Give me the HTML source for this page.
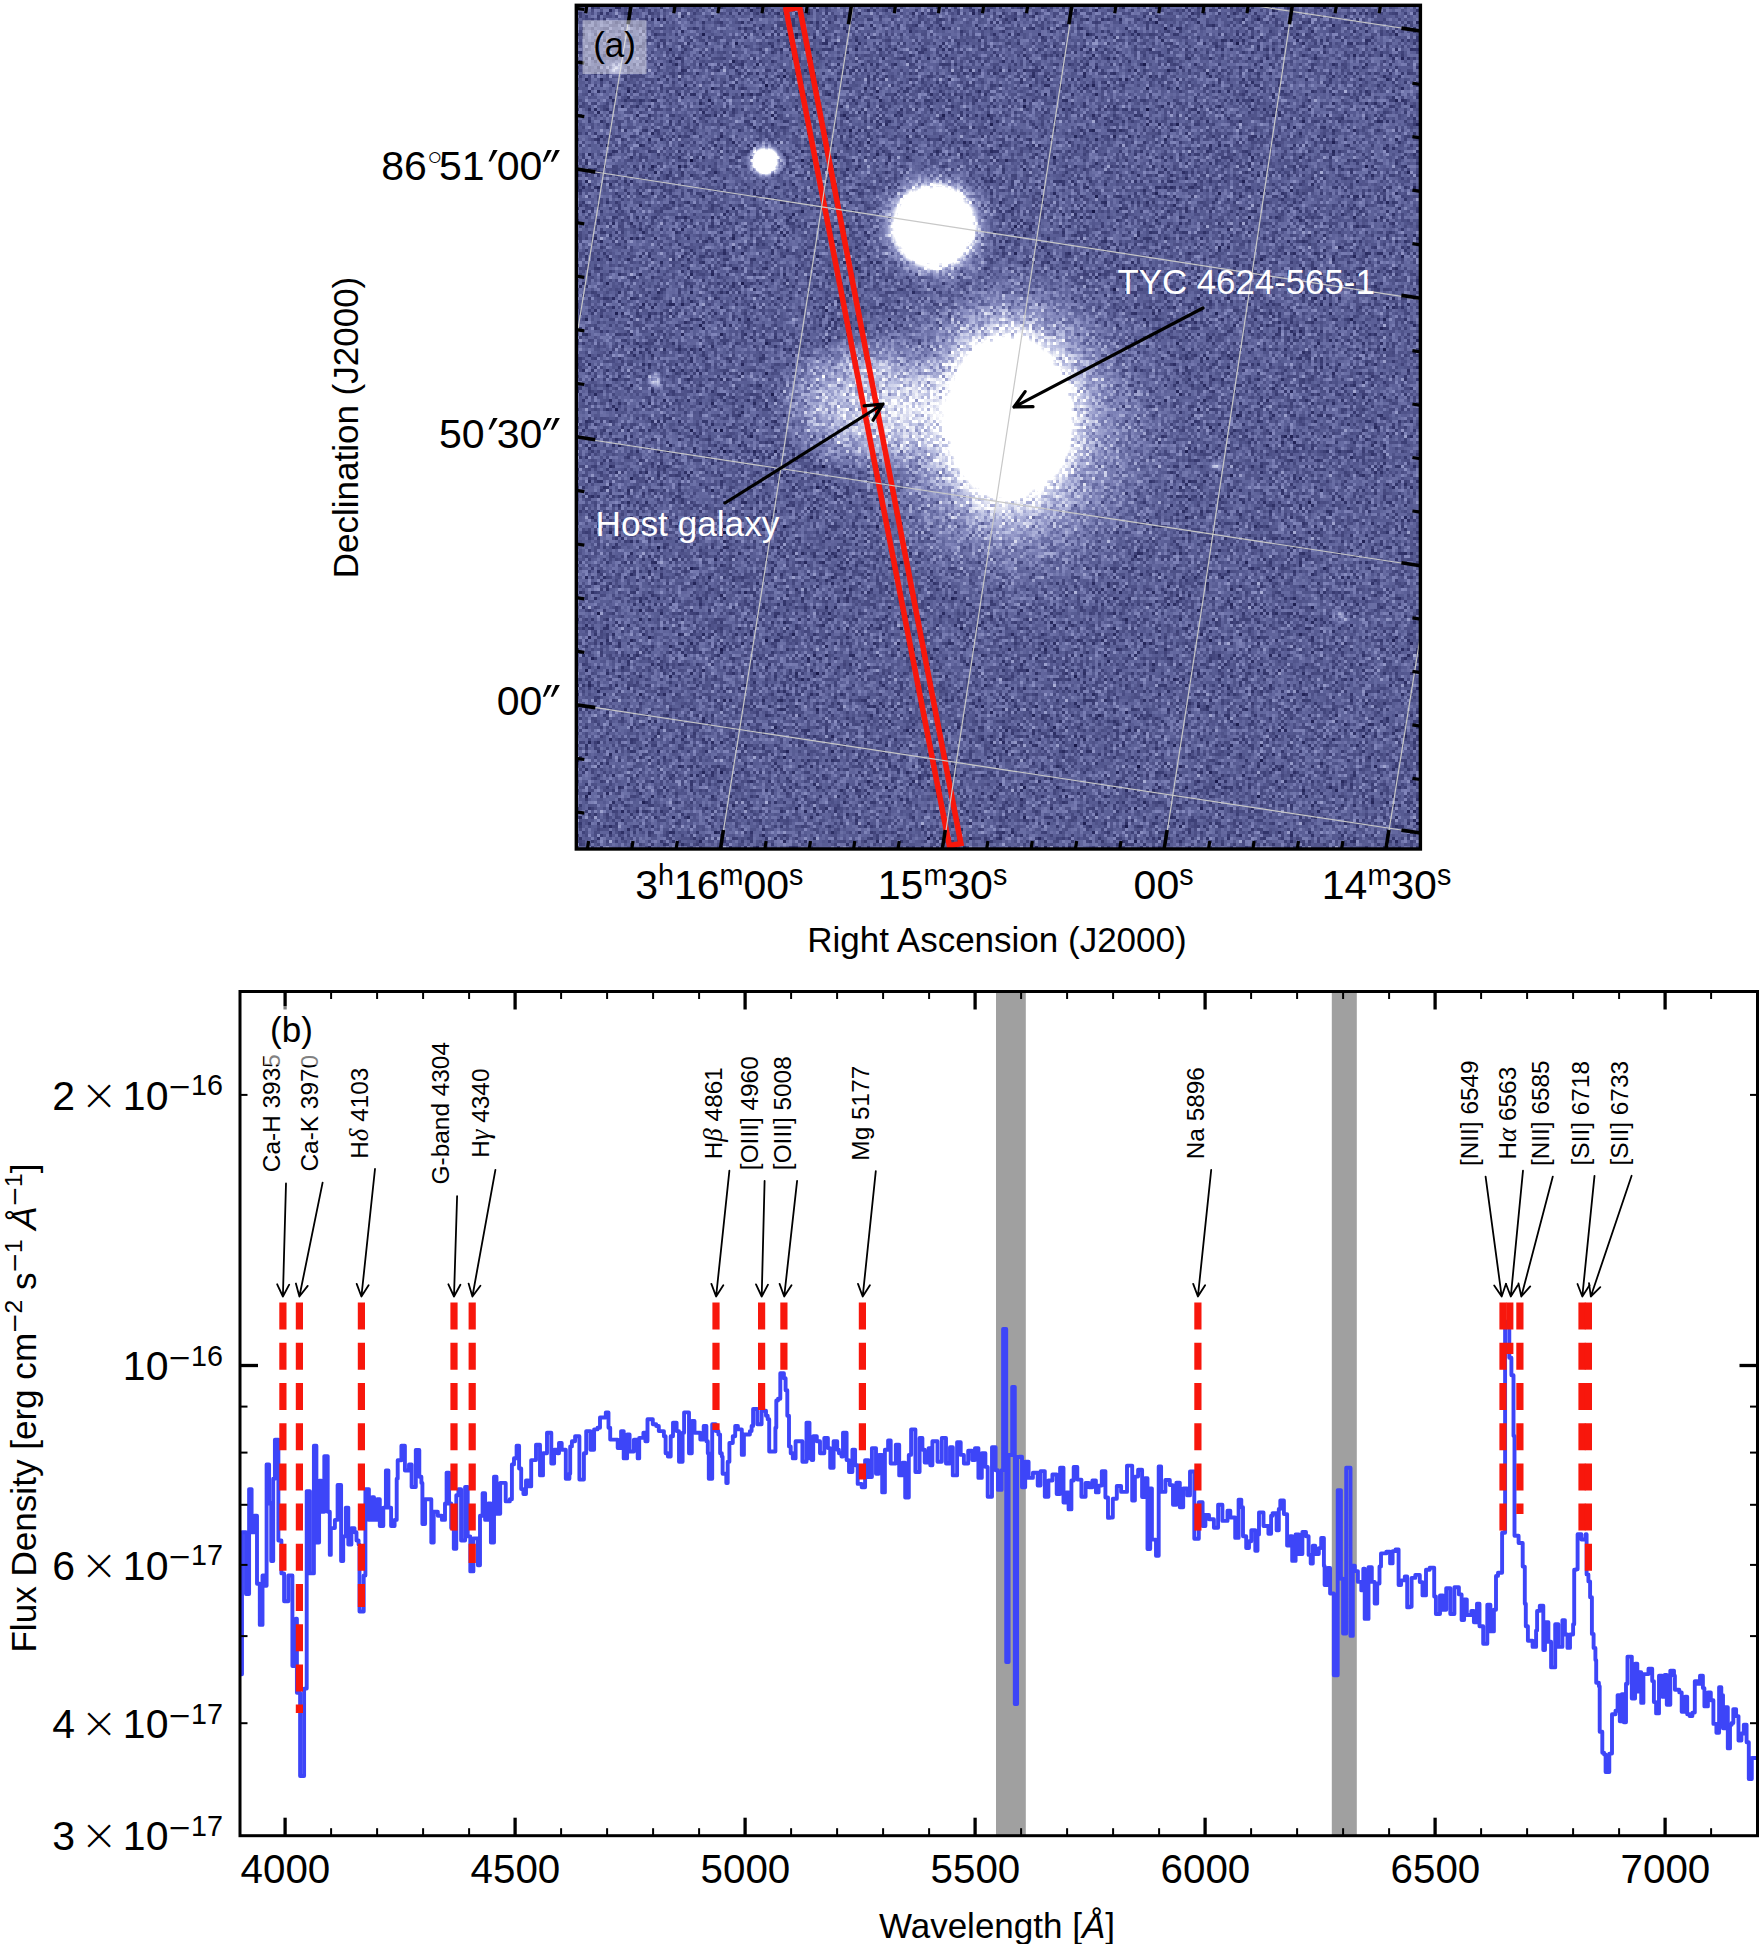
<!DOCTYPE html>
<html><head><meta charset="utf-8"><title>Figure</title>
<style>
html,body{margin:0;padding:0;background:#fff;}
svg{display:block;}
text{font-family:"Liberation Sans", sans-serif;}
</style></head><body>
<svg width="1762" height="1944" viewBox="0 0 1762 1944">
<rect width="1762" height="1944" fill="#fff"/>

<defs>
<clipPath id="clipA"><rect x="576.3" y="5.3" width="844.1000000000001" height="843.7"/></clipPath>
<filter id="sky" x="0" y="0" width="860" height="860" filterUnits="userSpaceOnUse" color-interpolation-filters="sRGB">
  <feTurbulence type="fractalNoise" baseFrequency="0.43 0.47" numOctaves="2" seed="7" result="t"/>
  <feColorMatrix in="t" type="matrix" values="1 0 0 0 0  1 0 0 0 0  1 0 0 0 0  0 0 0 0 1" result="n0"/>
  <feFlood x="1" y="1" width="1" height="1" flood-color="#000" result="f"/>
  <feComposite in="f" in2="f" operator="over" x="0" y="0" width="3" height="3" result="f2"/>
  <feTile in="f2" result="tile"/>
  <feComposite in="n0" in2="tile" operator="in" result="samp"/>
  <feMorphology in="samp" operator="dilate" radius="1" result="pix"/>
  <feColorMatrix in="pix" type="matrix" values="1 0 0 0 0  1 0 0 0 0  1 0 0 0 0  0 0 0 0 1" result="n"/>
  <feComposite in="SourceGraphic" in2="n" operator="arithmetic" k1="0" k2="2" k3="0.92" k4="-0.46" result="sum"/>
  <feComponentTransfer in="sum">
    <feFuncR type="table" tableValues="0.055 0.090 0.125 0.161 0.196 0.234 0.273 0.311 0.349 0.389 0.429 0.470 0.510 0.565 0.620 0.675 0.729 0.797 0.865 0.932 1.000"/>
    <feFuncG type="table" tableValues="0.055 0.092 0.129 0.167 0.204 0.244 0.284 0.325 0.365 0.406 0.447 0.488 0.529 0.584 0.639 0.694 0.749 0.812 0.875 0.937 1.000"/>
    <feFuncB type="table" tableValues="0.243 0.286 0.329 0.373 0.416 0.458 0.500 0.542 0.584 0.623 0.661 0.699 0.737 0.775 0.812 0.849 0.886 0.915 0.943 0.972 1.000"/>
    <feFuncA type="linear" slope="0" intercept="1"/>
  </feComponentTransfer>
</filter>

<radialGradient id="gS"><stop offset="0" stop-color="rgb(255,255,255)" stop-opacity="1"/><stop offset="0.45" stop-color="rgb(255,255,255)" stop-opacity="1"/><stop offset="0.55" stop-color="rgb(255,255,255)" stop-opacity="0.5"/><stop offset="0.75" stop-color="rgb(255,255,255)" stop-opacity="0.15"/><stop offset="1" stop-color="rgb(255,255,255)" stop-opacity="0"/></radialGradient>
<radialGradient id="gM"><stop offset="0" stop-color="rgb(255,255,255)" stop-opacity="1"/><stop offset="0.5" stop-color="rgb(255,255,255)" stop-opacity="1"/><stop offset="0.57" stop-color="rgb(255,255,255)" stop-opacity="0.5"/><stop offset="0.68" stop-color="rgb(255,255,255)" stop-opacity="0.2"/><stop offset="0.8" stop-color="rgb(255,255,255)" stop-opacity="0.07"/><stop offset="1" stop-color="rgb(255,255,255)" stop-opacity="0"/></radialGradient>
<radialGradient id="gB"><stop offset="0" stop-color="rgb(255,255,255)" stop-opacity="1"/><stop offset="0.47" stop-color="rgb(255,255,255)" stop-opacity="1"/><stop offset="0.5" stop-color="rgb(255,255,255)" stop-opacity="0.5"/><stop offset="0.56" stop-color="rgb(255,255,255)" stop-opacity="0.25"/><stop offset="0.68" stop-color="rgb(255,255,255)" stop-opacity="0.1"/><stop offset="0.85" stop-color="rgb(255,255,255)" stop-opacity="0.02"/><stop offset="1" stop-color="rgb(255,255,255)" stop-opacity="0"/></radialGradient>
<radialGradient id="gG"><stop offset="0" stop-color="rgb(255,255,255)" stop-opacity="0.27"/><stop offset="0.5" stop-color="rgb(255,255,255)" stop-opacity="0.21"/><stop offset="0.8" stop-color="rgb(255,255,255)" stop-opacity="0.09"/><stop offset="1" stop-color="rgb(255,255,255)" stop-opacity="0"/></radialGradient>
<radialGradient id="gG2"><stop offset="0" stop-color="rgb(255,255,255)" stop-opacity="0.06"/><stop offset="0.5" stop-color="rgb(255,255,255)" stop-opacity="0.04"/><stop offset="1" stop-color="rgb(255,255,255)" stop-opacity="0"/></radialGradient>
<radialGradient id="gH"><stop offset="0" stop-color="rgb(255,255,255)" stop-opacity="0.13"/><stop offset="0.5" stop-color="rgb(255,255,255)" stop-opacity="0.13"/><stop offset="0.62" stop-color="rgb(255,255,255)" stop-opacity="0.1"/><stop offset="0.8" stop-color="rgb(255,255,255)" stop-opacity="0.04"/><stop offset="1" stop-color="rgb(255,255,255)" stop-opacity="0"/></radialGradient>
<radialGradient id="gF"><stop offset="0" stop-color="rgb(255,255,255)" stop-opacity="0.2"/><stop offset="0.5" stop-color="rgb(255,255,255)" stop-opacity="0.1"/><stop offset="1" stop-color="rgb(255,255,255)" stop-opacity="0"/></radialGradient>
<radialGradient id="gF2"><stop offset="0" stop-color="rgb(255,255,255)" stop-opacity="0.3"/><stop offset="0.5" stop-color="rgb(255,255,255)" stop-opacity="0.15"/><stop offset="1" stop-color="rgb(255,255,255)" stop-opacity="0"/></radialGradient>
</defs>
<g clip-path="url(#clipA)">
<g filter="url(#sky)" transform="translate(570,0)"><g transform="translate(-570,0)">
<rect x="570.3" y="-0.7000000000000002" width="856.1000000000001" height="855.7" fill="rgb(51,51,51)"/>
<ellipse cx="1012" cy="432" rx="175" ry="185" fill="url(#gH)"/>
<ellipse cx="864" cy="403" rx="90" ry="72" fill="url(#gG)"/>
<ellipse cx="922" cy="428" rx="55" ry="50" fill="url(#gG2)"/>
<ellipse cx="1009" cy="418" rx="117" ry="152" fill="url(#gB)"/>
<circle cx="934.2" cy="226.3" r="66" fill="url(#gM)"/>
<circle cx="765.4" cy="161" r="20" fill="url(#gS)"/>
<circle cx="655.4" cy="380.7" r="10" fill="url(#gF2)"/>
<circle cx="1217" cy="465" r="8" fill="url(#gF)"/>
<circle cx="1341" cy="617" r="9" fill="url(#gF)"/>
<circle cx="616" cy="69" r="9" fill="url(#gF2)"/>
</g></g>
<path d="M786.1,9.7 L949.4,845.8 L960.9,843.5 L799.6,7.2 Z" fill="none" stroke="#f8170c" stroke-width="5.6" stroke-linejoin="miter"/>
<polyline points="631,5 577,335" fill="none" stroke="#c8c8c8" stroke-width="1.2"/>
<polyline points="853,5.3 760.3,600 720.5,849" fill="none" stroke="#c8c8c8" stroke-width="1.2"/>
<polyline points="1072.7,5.3 981,600 943.2,849" fill="none" stroke="#c8c8c8" stroke-width="1.2"/>
<polyline points="1292.3,5.3 1203,600 1164.5,849" fill="none" stroke="#c8c8c8" stroke-width="1.2"/>
<polyline points="1421,632 1386,849" fill="none" stroke="#c8c8c8" stroke-width="1.2"/>
<polyline points="576,169 1000,234.4 1421,299.3" fill="none" stroke="#c8c8c8" stroke-width="1.2"/>
<polyline points="576,437.5 1150,524.7 1421,566" fill="none" stroke="#c8c8c8" stroke-width="1.2"/>
<polyline points="576,704.7 1421,833" fill="none" stroke="#c8c8c8" stroke-width="1.2"/>
<polyline points="1250,5 1421,31" fill="none" stroke="#c8c8c8" stroke-width="1.2"/>
</g>
<line x1="587.4" y1="849.0" x2="588.6" y2="841.0" stroke="#000" stroke-width="3.2"/>
<line x1="631.8" y1="849.0" x2="633.0" y2="841.0" stroke="#000" stroke-width="3.2"/>
<line x1="676.1" y1="849.0" x2="677.4" y2="841.0" stroke="#000" stroke-width="3.2"/>
<line x1="720.5" y1="849.0" x2="723.4" y2="830.0" stroke="#000" stroke-width="3.6"/>
<line x1="764.9" y1="849.0" x2="766.1" y2="841.0" stroke="#000" stroke-width="3.2"/>
<line x1="809.2" y1="849.0" x2="810.5" y2="841.0" stroke="#000" stroke-width="3.2"/>
<line x1="853.6" y1="849.0" x2="854.8" y2="841.0" stroke="#000" stroke-width="3.2"/>
<line x1="898.0" y1="849.0" x2="899.2" y2="841.0" stroke="#000" stroke-width="3.2"/>
<line x1="942.3" y1="849.0" x2="945.3" y2="830.0" stroke="#000" stroke-width="3.6"/>
<line x1="986.7" y1="849.0" x2="987.9" y2="841.0" stroke="#000" stroke-width="3.2"/>
<line x1="1031.1" y1="849.0" x2="1032.3" y2="841.0" stroke="#000" stroke-width="3.2"/>
<line x1="1075.4" y1="849.0" x2="1076.7" y2="841.0" stroke="#000" stroke-width="3.2"/>
<line x1="1119.8" y1="849.0" x2="1121.0" y2="841.0" stroke="#000" stroke-width="3.2"/>
<line x1="1164.2" y1="849.0" x2="1167.1" y2="830.0" stroke="#000" stroke-width="3.6"/>
<line x1="1208.5" y1="849.0" x2="1209.8" y2="841.0" stroke="#000" stroke-width="3.2"/>
<line x1="1252.9" y1="849.0" x2="1254.1" y2="841.0" stroke="#000" stroke-width="3.2"/>
<line x1="1297.3" y1="849.0" x2="1298.5" y2="841.0" stroke="#000" stroke-width="3.2"/>
<line x1="1341.6" y1="849.0" x2="1342.9" y2="841.0" stroke="#000" stroke-width="3.2"/>
<line x1="1386.0" y1="849.0" x2="1388.9" y2="830.0" stroke="#000" stroke-width="3.6"/>
<line x1="586.9" y1="5.3" x2="585.7" y2="13.3" stroke="#000" stroke-width="3.2"/>
<line x1="631.0" y1="5.3" x2="628.1" y2="24.3" stroke="#000" stroke-width="3.6"/>
<line x1="675.1" y1="5.3" x2="673.8" y2="13.3" stroke="#000" stroke-width="3.2"/>
<line x1="719.2" y1="5.3" x2="717.9" y2="13.3" stroke="#000" stroke-width="3.2"/>
<line x1="763.3" y1="5.3" x2="762.0" y2="13.3" stroke="#000" stroke-width="3.2"/>
<line x1="807.3" y1="5.3" x2="806.1" y2="13.3" stroke="#000" stroke-width="3.2"/>
<line x1="851.4" y1="5.3" x2="848.5" y2="24.3" stroke="#000" stroke-width="3.6"/>
<line x1="895.5" y1="5.3" x2="894.3" y2="13.3" stroke="#000" stroke-width="3.2"/>
<line x1="939.6" y1="5.3" x2="938.4" y2="13.3" stroke="#000" stroke-width="3.2"/>
<line x1="983.7" y1="5.3" x2="982.5" y2="13.3" stroke="#000" stroke-width="3.2"/>
<line x1="1027.8" y1="5.3" x2="1026.5" y2="13.3" stroke="#000" stroke-width="3.2"/>
<line x1="1071.9" y1="5.3" x2="1068.9" y2="24.3" stroke="#000" stroke-width="3.6"/>
<line x1="1116.0" y1="5.3" x2="1114.7" y2="13.3" stroke="#000" stroke-width="3.2"/>
<line x1="1160.0" y1="5.3" x2="1158.8" y2="13.3" stroke="#000" stroke-width="3.2"/>
<line x1="1204.1" y1="5.3" x2="1202.9" y2="13.3" stroke="#000" stroke-width="3.2"/>
<line x1="1248.2" y1="5.3" x2="1247.0" y2="13.3" stroke="#000" stroke-width="3.2"/>
<line x1="1292.3" y1="5.3" x2="1289.4" y2="24.3" stroke="#000" stroke-width="3.6"/>
<line x1="1336.4" y1="5.3" x2="1335.1" y2="13.3" stroke="#000" stroke-width="3.2"/>
<line x1="1380.5" y1="5.3" x2="1379.2" y2="13.3" stroke="#000" stroke-width="3.2"/>
<line x1="576.3" y1="8.3" x2="584.3" y2="9.5" stroke="#000" stroke-width="3.2"/>
<line x1="576.3" y1="61.9" x2="584.3" y2="63.1" stroke="#000" stroke-width="3.2"/>
<line x1="576.3" y1="115.4" x2="584.3" y2="116.7" stroke="#000" stroke-width="3.2"/>
<line x1="576.3" y1="169.0" x2="595.3" y2="171.9" stroke="#000" stroke-width="3.6"/>
<line x1="576.3" y1="222.6" x2="584.3" y2="223.8" stroke="#000" stroke-width="3.2"/>
<line x1="576.3" y1="276.1" x2="584.3" y2="277.4" stroke="#000" stroke-width="3.2"/>
<line x1="576.3" y1="329.7" x2="584.3" y2="330.9" stroke="#000" stroke-width="3.2"/>
<line x1="576.3" y1="383.3" x2="584.3" y2="384.5" stroke="#000" stroke-width="3.2"/>
<line x1="576.3" y1="436.8" x2="595.3" y2="439.8" stroke="#000" stroke-width="3.6"/>
<line x1="576.3" y1="490.4" x2="584.3" y2="491.6" stroke="#000" stroke-width="3.2"/>
<line x1="576.3" y1="544.0" x2="584.3" y2="545.2" stroke="#000" stroke-width="3.2"/>
<line x1="576.3" y1="597.6" x2="584.3" y2="598.8" stroke="#000" stroke-width="3.2"/>
<line x1="576.3" y1="651.1" x2="584.3" y2="652.4" stroke="#000" stroke-width="3.2"/>
<line x1="576.3" y1="704.7" x2="595.3" y2="707.6" stroke="#000" stroke-width="3.6"/>
<line x1="576.3" y1="758.3" x2="584.3" y2="759.5" stroke="#000" stroke-width="3.2"/>
<line x1="576.3" y1="811.8" x2="584.3" y2="813.1" stroke="#000" stroke-width="3.2"/>
<line x1="1420.4" y1="31.0" x2="1401.4" y2="28.1" stroke="#000" stroke-width="3.6"/>
<line x1="1420.4" y1="84.5" x2="1412.4" y2="83.2" stroke="#000" stroke-width="3.2"/>
<line x1="1420.4" y1="137.9" x2="1412.4" y2="136.7" stroke="#000" stroke-width="3.2"/>
<line x1="1420.4" y1="191.4" x2="1412.4" y2="190.2" stroke="#000" stroke-width="3.2"/>
<line x1="1420.4" y1="244.9" x2="1412.4" y2="243.6" stroke="#000" stroke-width="3.2"/>
<line x1="1420.4" y1="298.3" x2="1401.4" y2="295.4" stroke="#000" stroke-width="3.6"/>
<line x1="1420.4" y1="351.8" x2="1412.4" y2="350.6" stroke="#000" stroke-width="3.2"/>
<line x1="1420.4" y1="405.3" x2="1412.4" y2="404.0" stroke="#000" stroke-width="3.2"/>
<line x1="1420.4" y1="458.7" x2="1412.4" y2="457.5" stroke="#000" stroke-width="3.2"/>
<line x1="1420.4" y1="512.2" x2="1412.4" y2="511.0" stroke="#000" stroke-width="3.2"/>
<line x1="1420.4" y1="565.7" x2="1401.4" y2="562.8" stroke="#000" stroke-width="3.6"/>
<line x1="1420.4" y1="619.1" x2="1412.4" y2="617.9" stroke="#000" stroke-width="3.2"/>
<line x1="1420.4" y1="672.6" x2="1412.4" y2="671.4" stroke="#000" stroke-width="3.2"/>
<line x1="1420.4" y1="726.1" x2="1412.4" y2="724.8" stroke="#000" stroke-width="3.2"/>
<line x1="1420.4" y1="779.5" x2="1412.4" y2="778.3" stroke="#000" stroke-width="3.2"/>
<line x1="1420.4" y1="833.0" x2="1401.4" y2="830.1" stroke="#000" stroke-width="3.6"/>
<rect x="576.3" y="5.3" width="844.1000000000001" height="843.7" fill="none" stroke="#000" stroke-width="3.4"/>
<rect x="582.6" y="20.2" width="63.9" height="53.8" fill="#fff" fill-opacity="0.42"/>
<path d="M1203.0,308.0 L1014.0,407.0 M1025.1,391.6 L1014.0,407.0 L1033.0,406.6" fill="none" stroke="#000" stroke-width="3.2" stroke-linecap="round" stroke-linejoin="round"/>
<path d="M725.0,503.0 L883.0,404.0 M873.1,420.2 L883.0,404.0 L864.1,405.8" fill="none" stroke="#000" stroke-width="3.2" stroke-linecap="round" stroke-linejoin="round"/>
<text x="614.6" y="57" font-size="35" text-anchor="middle">(a)</text>
<text x="1117.5" y="294.3" font-size="34.8" fill="#fff">TYC 4624-565-1</text>
<text x="595.5" y="536.3" font-size="35.2" fill="#fff">Host galaxy</text>
<text x="563" y="179.6" font-size="41" text-anchor="end">86<tspan font-size="25" dy="-14.5" dx="0.5">○</tspan><tspan dy="14.5" dx="-3.5">51</tspan><tspan font-family="DejaVu Math TeX Gyre, DejaVu Sans, sans-serif" font-size="50" dy="8" dx="1">′</tspan><tspan dy="-8" dx="-4">00</tspan><tspan font-family="DejaVu Math TeX Gyre, DejaVu Sans, sans-serif" font-size="50" dy="8" dx="-2.5">″</tspan></text>
<text x="563" y="447.5" font-size="41" text-anchor="end">50<tspan font-family="DejaVu Math TeX Gyre, DejaVu Sans, sans-serif" font-size="50" dy="8" dx="1">′</tspan><tspan dy="-8" dx="-4">30</tspan><tspan font-family="DejaVu Math TeX Gyre, DejaVu Sans, sans-serif" font-size="50" dy="8" dx="-2.5">″</tspan></text>
<text x="563" y="715" font-size="41" text-anchor="end">00<tspan font-family="DejaVu Math TeX Gyre, DejaVu Sans, sans-serif" font-size="50" dy="8" dx="-2.5">″</tspan></text>
<text x="719.3" y="899.4" font-size="41" text-anchor="middle">3<tspan font-size="28.7" dy="-14.8">h</tspan><tspan dy="14.8">16</tspan><tspan font-size="28.7" dy="-14.8">m</tspan><tspan dy="14.8">00</tspan><tspan font-size="28.7" dy="-14.8">s</tspan></text>
<text x="942.5" y="899.4" font-size="41" text-anchor="middle">15<tspan font-size="28.7" dy="-14.8">m</tspan><tspan dy="14.8">30</tspan><tspan font-size="28.7" dy="-14.8">s</tspan></text>
<text x="1163.6" y="899.4" font-size="41" text-anchor="middle">00<tspan font-size="28.7" dy="-14.8">s</tspan></text>
<text x="1386.5" y="899.4" font-size="41" text-anchor="middle">14<tspan font-size="28.7" dy="-14.8">m</tspan><tspan dy="14.8">30</tspan><tspan font-size="28.7" dy="-14.8">s</tspan></text>
<text x="997" y="951.5" font-size="35" text-anchor="middle">Right Ascension (J2000)</text>
<text transform="translate(358,427.5) rotate(-90)" font-size="35" text-anchor="middle">Declination (J2000)</text>
<clipPath id="clipB"><rect x="240.0" y="991.5" width="1517.5" height="844.2"/></clipPath>
<g clip-path="url(#clipB)">
<rect x="996" y="991.5" width="29.8" height="844.2" fill="#a0a0a0"/>
<rect x="1331.8" y="991.5" width="25" height="844.2" fill="#a0a0a0"/>
<path d="M240.3,1674.2H242.0V1532.3H243.8H246.0V1594.0H246.9H249.1V1489.1H250.0H251.6V1532.3H254.3V1515.8H256.1H257.0V1583.7H258.8H259.8V1624.9H262.5V1575.5H263.4H265.0V1585.8H266.6V1464.4H267.5H269.1V1503.5H271.2V1561.1H273.2V1478.8H274.9V1439.7H276.7H278.4V1540.5H280.4H281.4V1573.4H284.1V1601.2H285.9H288.3V1575.5H290.0H292.4V1666.0H294.8H295.8V1618.7H296.9V1692.8H299.5H300.1V1776.1H301.0H304.1V1688.6H306.7V1491.1H307.6H309.9V1573.4H311.7H313.9V1445.8H314.8H316.4V1542.6H319.1V1480.8H320.0H321.6V1511.7H324.3V1456.1H326.1H327.7V1511.7H329.8V1554.9H330.8V1528.1H332.9H334.9V1519.9H337.6V1484.9H338.5H341.1V1561.1H343.2V1536.4H345.8V1507.6H346.7H348.3V1544.6H351.4V1528.1H354.5V1532.3H356.5V1540.5H358.6V1544.6H359.5V1611.5H361.0H363.7V1575.5H365.4V1489.1H366.3H368.9V1519.9H372.0V1497.3H374.0V1519.9H377.1V1499.3H379.8V1526.1H381.6H383.3V1507.6H385.9V1470.5H386.8H388.4V1507.6H391.1V1526.1H392.9H394.6V1519.9H396.7V1478.8H397.7V1460.2H401.4V1445.8H403.8H404.9V1470.5H409.0V1464.4H411.6V1487.0H412.5H415.8V1450.0H417.6H419.3V1476.7H421.4V1482.9H422.4V1524.0H425.1V1499.3H426.9H431.3V1542.6H432.6H433.7V1511.7H437.8V1515.8H441.9V1519.9H445.0V1503.5H446.6V1472.6H447.5H449.1V1503.5H451.2V1528.1H453.8V1548.7H454.7H456.3V1495.2H458.4V1489.1H461.1V1540.5H462.9H465.1V1487.0H466.0H467.7V1536.4H470.3V1571.4H471.2H473.4V1538.4H475.2H477.9V1565.2H480.0V1515.8H482.6V1493.2H483.5H485.1V1519.9H488.2V1503.5H490.9V1542.6H491.8H494.0V1476.7H494.9H496.5V1513.7H500.2V1482.9H503.0H505.7V1501.4H509.8V1499.3H511.9V1464.4H514.0V1458.2H516.6V1445.8H517.5H519.1V1468.5H521.2V1489.1H523.4V1494.1H526.0V1480.5H528.3V1486.4H530.4H531.2V1460.1H533.6H536.0V1444.7H538.1H540.0V1475.4H540.9H543.0V1453.2H544.7H547.0V1432.8H549.1H551.3V1463.5H552.6H554.1V1449.8H557.5V1453.2H559.0V1443.0H560.2H561.7V1449.8H563.4H565.8V1478.8H567.0H569.4V1473.7H570.2V1446.4H571.9V1441.3H575.1V1436.2H577.8H579.4V1479.6H582.4H583.9V1453.2H586.2V1431.1H587.5H590.5V1449.8H592.6H594.1V1429.4H597.5V1427.7H600.0V1417.5H603.4H605.8V1412.4H607.6H608.5V1427.7H609.9H610.2V1439.6H615.4H617.7V1448.1H619.5H621.1V1431.1H622.0H623.7V1458.4H624.9H627.1V1434.5H628.0H629.6V1451.5H631.7H633.9V1439.6H635.1H637.7V1458.4H638.6H639.2V1437.9H642.6H643.4V1432.8H645.4V1441.3H646.3H647.5V1419.2H650.5H652.8V1424.3H656.2V1426.0H658.8V1431.1H662.2H663.9V1436.2H665.6V1453.2H667.9V1456.6H669.2H670.7V1436.2H673.0V1422.6H675.1H676.6V1431.1H678.0H679.0V1461.8H681.1H682.6V1432.8H684.1V1412.4H687.1H689.0V1453.2H689.9H691.8V1420.9H693.0H694.5V1432.8H698.8H700.3V1439.6H701.5H703.7V1426.0H704.9H706.4V1441.3H707.8V1453.2H708.8V1478.8H710.6H712.2V1424.3H713.5H715.8V1431.1H718.4V1434.5H720.1V1453.2H721.8V1456.6H722.6V1473.7H725.2H726.3V1483.0H727.2H727.7V1461.8H729.4V1443.0H731.1H732.8V1436.2H735.2V1426.0H736.4H737.9V1429.4H740.5H741.8V1454.9H742.7H743.9V1434.5H747.3H749.9V1431.1H751.6V1426.0H753.1V1409.0H755.2H757.3V1424.3H759.4H761.6V1410.7H763.7H766.0V1415.8H767.7V1419.2H769.2V1451.5H773.9H775.4V1427.7H776.3V1400.5H778.0V1398.8H780.3V1373.2H782.4H783.9V1378.3H785.6V1390.2H787.3V1415.8H789.0V1446.4H790.7V1453.2H792.8V1458.4H793.7H795.6V1441.3H800.3H802.4V1461.8H803.7H806.5V1422.6H807.4H809.5V1458.4H811.7V1460.1H813.2V1436.2H815.3H816.8V1441.3H818.5H820.0V1453.2H822.1H824.3V1437.9H826.4H827.9V1448.1H829.2H830.2V1467.7H831.5H833.6V1441.3H835.7H837.2V1449.8H838.9V1453.2H841.5V1456.6H843.0V1432.8H845.1H846.6V1460.1H848.0H849.0V1472.0H850.2H852.4V1449.8H853.6H855.1V1465.2H856.8H857.7V1483.9H860.2H861.7V1487.3H863.0H865.1V1460.1H866.9H868.5V1477.1H869.8H871.9V1448.1H874.1H876.0V1473.7H876.9H878.8V1454.9H880.0H882.2V1492.4H883.4H884.9V1449.8H886.6H888.1V1440.5H889.0H890.7V1463.5H893.6H895.8V1444.7H897.6H899.2V1475.4H900.4H902.6V1462.6H903.5H905.2V1497.5H907.3H908.8V1454.9H910.1H911.1V1429.4H913.2H915.4V1472.0H916.6H919.6V1437.9H921.4H922.4V1449.8H923.7H924.7V1462.6H926.8H928.6V1448.1H929.5H930.3V1465.2H931.2H932.4V1441.3H935.4H937.5V1461.8H938.8H941.8V1437.9H943.9H946.0V1463.5H948.1H950.0V1447.3H950.9H952.8V1475.4H954.9H957.1V1442.2H959.2H960.7V1454.9H962.4H963.9V1463.5H966.0H968.2V1450.7H970.3H972.2V1460.1H973.1H975.0V1448.1H976.7H978.4V1477.9H979.6H981.8V1453.2H983.9H985.4V1466.9H986.7H987.7V1496.7H989.8H992.0V1447.3H994.1H995.6V1470.3H996.4H997.9V1489.9H1000.1H1001.6V1470.3H1003.1V1329H1004.9H1006.2V1662H1007.9H1008.6V1455H1011.5H1012.2V1387H1013.4H1014.8V1704H1016.4H1017.1V1457H1018.5H1019.2V1456.6H1021.0H1022.0V1487.3H1025.2V1461.8H1026.4H1028.6V1477.9H1030.7H1032.9V1472.8H1035.8H1037.7V1485.6H1038.6H1040.5V1471.1H1042.6H1044.8V1496.7H1046.9H1048.4V1480.5H1050.9H1052.4V1474.5H1054.5H1056.7V1494.1H1057.9H1060.1V1467.7H1061.4H1063.5V1502.6H1064.8H1066.3V1492.4H1068.6V1509.4H1069.9H1071.4V1480.5H1073.7V1466.9H1075.8H1077.3V1479.6H1079.9H1081.4V1496.7H1083.5H1085.6V1483.0H1086.9H1089.0V1487.3H1090.3H1092.4V1480.5H1093.7H1095.9V1492.4H1097.1H1098.6V1485.6H1100.3H1101.8V1471.1H1103.9H1105.4V1497.5H1107.1H1108.0V1517.9H1110.2V1517.5H1111.9H1112.8V1498.8H1115.3H1116.8V1486.0H1118.9H1121.1V1491.9H1124.9H1127.0V1465.6H1130.0H1132.2V1500.5H1133.4H1134.9V1476.6H1136.6H1138.1V1469.8H1140.2H1142.1V1497.1H1143.0H1144.9V1478.3H1145.8H1147.5V1549.0H1148.7H1150.2V1488.5H1151.1H1151.9V1539.6H1154.5H1156.0V1555.8H1157.2H1158.7V1466.4H1159.6H1161.1V1491.9H1163.2H1165.4V1480.0H1167.5H1169.8V1485.1H1171.5H1173.0V1504.7H1174.3H1176.4V1482.6H1177.7H1179.8V1507.3H1181.1H1183.2V1488.5H1185.3H1187.2V1495.4H1188.1H1190.0V1471.5H1192.1H1194.3V1538.8H1197.3H1198.8V1502.2H1202.6V1526.0H1203.5H1205.4V1514.9H1207.5H1209.0V1519.2H1212.4H1213.9V1527.7H1216.0H1218.1V1504.7H1220.2H1222.4V1520.9H1225.4H1227.5V1510.7H1228.8H1230.3V1517.5H1233.7H1235.2V1537.9H1236.4H1238.6V1499.6H1240.3H1241.3V1507.3H1243.0V1536.2H1245.2H1246.2V1548.1H1247.5H1249.0V1541.3H1251.3V1530.3H1253.4H1255.3V1550.7H1256.2H1257.5V1534.5H1259.0V1512.4H1262.0H1263.5V1526.0H1266.0H1268.4V1533.7H1269.6H1271.1V1515.8H1272.6V1513.2H1274.7H1276.6V1530.3H1277.5H1278.8V1509.0H1280.3V1500.5H1282.4H1283.9V1514.1H1286.1H1287.1V1545.6H1288.4H1290.1V1536.2H1291.0H1292.2V1560.9H1293.5H1295.6V1534.5H1296.9H1299.0V1554.1H1300.3H1302.4V1532.0H1304.5H1306.0V1536.2H1307.7H1308.6V1554.9H1310.7V1563.5H1311.6H1312.8V1545.6H1315.2V1554.1H1316.4H1318.8V1548.1H1321.2V1537.9H1322.4H1323.9V1566.0H1324.6V1585.0H1325.6H1327.7V1568.0H1328.7H1330.1V1593.5H1332.4H1333.8V1675.2H1335.6H1337.7V1490.1H1339.5H1340.9V1578.8H1343.1V1633.6H1344.1H1346.2V1467.8H1348.7H1350.5V1635.9H1351.4H1352.8V1565.7H1353.7H1354.8V1571.1H1357.1H1357.9V1581.9H1360.2H1361.3V1590.4H1362.2H1363.3V1568.8H1363.7H1364.7V1618.9H1366.5H1368.5V1567.3H1370.3H1371.8V1581.9H1373.3H1374.7V1603.5H1375.7H1377.2V1583.5H1378.7H1379.5V1566.5H1381.0V1553.4H1384.1H1386.3V1551.8H1388.1H1390.1V1563.4H1391.2H1392.6V1551.1H1395.5V1549.5H1396.6H1398.6V1585.0H1399.6H1401.1V1580.4H1403.4H1404.8V1576.5H1405.8H1407.2V1607.4H1409.5V1606.7H1410.6H1411.6V1577.9H1413.7H1415.3V1574.9H1418.2H1419.8V1582.1H1422.5V1595.4H1424.3H1426.0V1569.7H1428.1H1429.7V1567.7H1432.6H1434.2V1596.5H1435.9V1614.0H1437.7H1440.0V1595.4H1440.9H1443.0V1609.8H1443.9H1446.2V1588.2H1448.0H1450.3V1614.0H1452.1H1454.4V1587.2H1457.3H1458.9V1594.4H1460.0H1461.6V1620.1H1462.5H1464.1V1599.5H1465.1H1466.8V1615.0H1468.6H1471.3V1610.9H1473.9V1622.2H1474.8H1477.0V1603.7H1477.9H1479.5V1626.3H1481.6H1483.2V1643.8H1485.0H1487.3V1604.7H1488.2H1490.4V1631.4H1492.2H1493.9V1609.8H1495.6H1496.0V1575.9H1498.0V1572.8H1501.1H1502.1V1532.7H1504.2H1505.1V1321.8H1507.7H1509.3V1357.8H1511.4V1375.3H1513.5V1436.0H1514.5V1535.8H1517.6H1518.6V1543.0H1521.7H1522.7V1566.6H1524.8V1603.7H1525.8V1626.3H1527.4H1527.9V1640.7H1530.9H1532.6V1646.9H1534.4H1536.1V1630.4H1537.1V1610.9H1539.8V1605.7H1541.6H1543.3V1650.0H1545.0V1622.2H1546.8H1548.4V1641.7H1549.5H1551.1V1667.4H1552.9H1555.2V1624.2H1556.1H1558.3V1646.9H1560.1H1562.4V1620.1H1563.3H1564.9V1634.5H1567.5V1647.9H1568.4H1570.0V1634.5H1572.1H1573.1V1624.2H1574.2V1569.7H1576.2V1569.2H1576.6H1577.6V1534.2H1579.8H1581.4V1539.5H1585.7V1534.2H1586.6V1574.4H1588.4V1581.4H1590.1V1597.2H1591.9V1633.9H1593.6V1647.9H1595.4V1660.1H1596.2V1682.8H1598.9V1686.3H1599.7V1731.8H1602.3V1752.8H1604.1V1754.5H1605.6V1772.0H1607.8H1609.3V1753.6H1611.1H1612.0V1714.3H1614.6H1615.5V1710.8H1616.9H1617.6V1695.1H1618.5H1619.8V1721.3H1621.8V1694.2H1622.7H1623.8V1722.2H1624.7H1626.0V1683.7H1627.5V1656.6H1629.7H1631.8V1698.6H1633.2H1635.1V1663.6H1636.0H1637.3V1691.6H1639.3V1672.3H1640.2H1641.2V1702.9H1642.1H1643.4V1674.1H1646.9H1648.5V1668.8H1650.7H1652.2V1681.1H1653.9V1702.1H1656.1V1713.4H1657.0H1659.0V1675.8H1660.3H1662.2V1696.8H1663.1H1664.7V1675.0H1665.6H1666.8V1704.7H1668.1H1670.3V1670.6H1672.5H1674.0V1675.8H1674.9V1689.8H1678.4H1679.3V1692.4H1681.7V1711.7H1683.0H1685.0V1696.8H1685.9H1687.2V1714.3H1689.6V1716.1H1690.9H1692.4V1712.6H1694.8V1681.1H1696.1H1697.6V1683.7H1700.0V1675.8H1701.4H1702.9V1688.1H1704.4V1706.4H1705.7H1707.9V1692.4H1709.2H1710.8V1700.3H1712.5H1713.4V1723.9H1715.1H1716.4V1732.7H1717.3H1719.1V1687.2H1720.0H1721.3V1695.1H1723.0V1728.3H1725.2V1707.3H1726.1H1727.8V1748.4H1728.7H1730.0V1724.8H1731.7V1723.0H1733.3V1709.1H1734.6H1736.1V1716.1H1737.5H1738.5V1740.5H1739.8H1741.4V1733.5H1743.8V1724.8H1745.1H1746.6V1742.3H1747.5H1748.8V1779.0H1749.7H1751.8V1758.0H1756.2" fill="none" stroke="#3d45f8" stroke-width="3.9" stroke-linejoin="round" stroke-linecap="round"/>
<line x1="282.9" y1="1302.6" x2="282.9" y2="1571" stroke="#f8170c" stroke-width="7.2" stroke-dasharray="27 13.2"/>
<line x1="299.4" y1="1302.6" x2="299.4" y2="1713" stroke="#f8170c" stroke-width="7.2" stroke-dasharray="27 13.2"/>
<line x1="361.4" y1="1302.6" x2="361.4" y2="1607" stroke="#f8170c" stroke-width="7.2" stroke-dasharray="27 13.2"/>
<line x1="454" y1="1302.6" x2="454" y2="1531" stroke="#f8170c" stroke-width="7.2" stroke-dasharray="27 13.2"/>
<line x1="472.2" y1="1302.6" x2="472.2" y2="1563" stroke="#f8170c" stroke-width="7.2" stroke-dasharray="27 13.2"/>
<line x1="716" y1="1302.6" x2="716" y2="1430" stroke="#f8170c" stroke-width="7.2" stroke-dasharray="27 13.2"/>
<line x1="761.6" y1="1302.6" x2="761.6" y2="1410.7" stroke="#f8170c" stroke-width="7.2" stroke-dasharray="27 13.2"/>
<line x1="783.9" y1="1302.6" x2="783.9" y2="1369.8" stroke="#f8170c" stroke-width="7.2" stroke-dasharray="27 13.2"/>
<line x1="862.4" y1="1302.6" x2="862.4" y2="1479.6" stroke="#f8170c" stroke-width="7.2" stroke-dasharray="27 13.2"/>
<line x1="1197.9" y1="1302.6" x2="1197.9" y2="1531" stroke="#f8170c" stroke-width="7.2" stroke-dasharray="27 13.2"/>
<line x1="1503.0" y1="1302.6" x2="1503.0" y2="1532.7" stroke="#f8170c" stroke-width="7.2" stroke-dasharray="27 13.2"/>
<line x1="1509.8" y1="1302.6" x2="1509.8" y2="1354" stroke="#f8170c" stroke-width="7.2" stroke-dasharray="27 13.2"/>
<line x1="1519.9" y1="1302.6" x2="1519.9" y2="1514" stroke="#f8170c" stroke-width="7.2" stroke-dasharray="27 13.2"/>
<line x1="1582.0" y1="1302.6" x2="1582.0" y2="1531.6" stroke="#f8170c" stroke-width="7.2" stroke-dasharray="27 13.2"/>
<line x1="1588.4" y1="1302.6" x2="1588.4" y2="1571" stroke="#f8170c" stroke-width="7.2" stroke-dasharray="27 13.2"/>
</g>
<line x1="285.1" y1="991.5" x2="285.1" y2="1009.5" stroke="#000" stroke-width="3.3"/>
<line x1="285.1" y1="1835.7" x2="285.1" y2="1817.7" stroke="#000" stroke-width="3.3"/>
<line x1="331.1" y1="991.5" x2="331.1" y2="999.0" stroke="#000" stroke-width="2.0"/>
<line x1="331.1" y1="1835.7" x2="331.1" y2="1828.2" stroke="#000" stroke-width="2.0"/>
<line x1="377.1" y1="991.5" x2="377.1" y2="999.0" stroke="#000" stroke-width="2.0"/>
<line x1="377.1" y1="1835.7" x2="377.1" y2="1828.2" stroke="#000" stroke-width="2.0"/>
<line x1="423.1" y1="991.5" x2="423.1" y2="999.0" stroke="#000" stroke-width="2.0"/>
<line x1="423.1" y1="1835.7" x2="423.1" y2="1828.2" stroke="#000" stroke-width="2.0"/>
<line x1="469.1" y1="991.5" x2="469.1" y2="999.0" stroke="#000" stroke-width="2.0"/>
<line x1="469.1" y1="1835.7" x2="469.1" y2="1828.2" stroke="#000" stroke-width="2.0"/>
<line x1="515.1" y1="991.5" x2="515.1" y2="1009.5" stroke="#000" stroke-width="3.3"/>
<line x1="515.1" y1="1835.7" x2="515.1" y2="1817.7" stroke="#000" stroke-width="3.3"/>
<line x1="561.1" y1="991.5" x2="561.1" y2="999.0" stroke="#000" stroke-width="2.0"/>
<line x1="561.1" y1="1835.7" x2="561.1" y2="1828.2" stroke="#000" stroke-width="2.0"/>
<line x1="607.1" y1="991.5" x2="607.1" y2="999.0" stroke="#000" stroke-width="2.0"/>
<line x1="607.1" y1="1835.7" x2="607.1" y2="1828.2" stroke="#000" stroke-width="2.0"/>
<line x1="653.1" y1="991.5" x2="653.1" y2="999.0" stroke="#000" stroke-width="2.0"/>
<line x1="653.1" y1="1835.7" x2="653.1" y2="1828.2" stroke="#000" stroke-width="2.0"/>
<line x1="699.1" y1="991.5" x2="699.1" y2="999.0" stroke="#000" stroke-width="2.0"/>
<line x1="699.1" y1="1835.7" x2="699.1" y2="1828.2" stroke="#000" stroke-width="2.0"/>
<line x1="745.1" y1="991.5" x2="745.1" y2="1009.5" stroke="#000" stroke-width="3.3"/>
<line x1="745.1" y1="1835.7" x2="745.1" y2="1817.7" stroke="#000" stroke-width="3.3"/>
<line x1="791.1" y1="991.5" x2="791.1" y2="999.0" stroke="#000" stroke-width="2.0"/>
<line x1="791.1" y1="1835.7" x2="791.1" y2="1828.2" stroke="#000" stroke-width="2.0"/>
<line x1="837.1" y1="991.5" x2="837.1" y2="999.0" stroke="#000" stroke-width="2.0"/>
<line x1="837.1" y1="1835.7" x2="837.1" y2="1828.2" stroke="#000" stroke-width="2.0"/>
<line x1="883.1" y1="991.5" x2="883.1" y2="999.0" stroke="#000" stroke-width="2.0"/>
<line x1="883.1" y1="1835.7" x2="883.1" y2="1828.2" stroke="#000" stroke-width="2.0"/>
<line x1="929.1" y1="991.5" x2="929.1" y2="999.0" stroke="#000" stroke-width="2.0"/>
<line x1="929.1" y1="1835.7" x2="929.1" y2="1828.2" stroke="#000" stroke-width="2.0"/>
<line x1="975.1" y1="991.5" x2="975.1" y2="1009.5" stroke="#000" stroke-width="3.3"/>
<line x1="975.1" y1="1835.7" x2="975.1" y2="1817.7" stroke="#000" stroke-width="3.3"/>
<line x1="1021.1" y1="991.5" x2="1021.1" y2="999.0" stroke="#000" stroke-width="2.0"/>
<line x1="1021.1" y1="1835.7" x2="1021.1" y2="1828.2" stroke="#000" stroke-width="2.0"/>
<line x1="1067.1" y1="991.5" x2="1067.1" y2="999.0" stroke="#000" stroke-width="2.0"/>
<line x1="1067.1" y1="1835.7" x2="1067.1" y2="1828.2" stroke="#000" stroke-width="2.0"/>
<line x1="1113.1" y1="991.5" x2="1113.1" y2="999.0" stroke="#000" stroke-width="2.0"/>
<line x1="1113.1" y1="1835.7" x2="1113.1" y2="1828.2" stroke="#000" stroke-width="2.0"/>
<line x1="1159.1" y1="991.5" x2="1159.1" y2="999.0" stroke="#000" stroke-width="2.0"/>
<line x1="1159.1" y1="1835.7" x2="1159.1" y2="1828.2" stroke="#000" stroke-width="2.0"/>
<line x1="1205.1" y1="991.5" x2="1205.1" y2="1009.5" stroke="#000" stroke-width="3.3"/>
<line x1="1205.1" y1="1835.7" x2="1205.1" y2="1817.7" stroke="#000" stroke-width="3.3"/>
<line x1="1251.1" y1="991.5" x2="1251.1" y2="999.0" stroke="#000" stroke-width="2.0"/>
<line x1="1251.1" y1="1835.7" x2="1251.1" y2="1828.2" stroke="#000" stroke-width="2.0"/>
<line x1="1297.1" y1="991.5" x2="1297.1" y2="999.0" stroke="#000" stroke-width="2.0"/>
<line x1="1297.1" y1="1835.7" x2="1297.1" y2="1828.2" stroke="#000" stroke-width="2.0"/>
<line x1="1343.1" y1="991.5" x2="1343.1" y2="999.0" stroke="#000" stroke-width="2.0"/>
<line x1="1343.1" y1="1835.7" x2="1343.1" y2="1828.2" stroke="#000" stroke-width="2.0"/>
<line x1="1389.1" y1="991.5" x2="1389.1" y2="999.0" stroke="#000" stroke-width="2.0"/>
<line x1="1389.1" y1="1835.7" x2="1389.1" y2="1828.2" stroke="#000" stroke-width="2.0"/>
<line x1="1435.1" y1="991.5" x2="1435.1" y2="1009.5" stroke="#000" stroke-width="3.3"/>
<line x1="1435.1" y1="1835.7" x2="1435.1" y2="1817.7" stroke="#000" stroke-width="3.3"/>
<line x1="1481.1" y1="991.5" x2="1481.1" y2="999.0" stroke="#000" stroke-width="2.0"/>
<line x1="1481.1" y1="1835.7" x2="1481.1" y2="1828.2" stroke="#000" stroke-width="2.0"/>
<line x1="1527.1" y1="991.5" x2="1527.1" y2="999.0" stroke="#000" stroke-width="2.0"/>
<line x1="1527.1" y1="1835.7" x2="1527.1" y2="1828.2" stroke="#000" stroke-width="2.0"/>
<line x1="1573.1" y1="991.5" x2="1573.1" y2="999.0" stroke="#000" stroke-width="2.0"/>
<line x1="1573.1" y1="1835.7" x2="1573.1" y2="1828.2" stroke="#000" stroke-width="2.0"/>
<line x1="1619.1" y1="991.5" x2="1619.1" y2="999.0" stroke="#000" stroke-width="2.0"/>
<line x1="1619.1" y1="1835.7" x2="1619.1" y2="1828.2" stroke="#000" stroke-width="2.0"/>
<line x1="1665.1" y1="991.5" x2="1665.1" y2="1009.5" stroke="#000" stroke-width="3.3"/>
<line x1="1665.1" y1="1835.7" x2="1665.1" y2="1817.7" stroke="#000" stroke-width="3.3"/>
<line x1="1711.1" y1="991.5" x2="1711.1" y2="999.0" stroke="#000" stroke-width="2.0"/>
<line x1="1711.1" y1="1835.7" x2="1711.1" y2="1828.2" stroke="#000" stroke-width="2.0"/>
<line x1="240.0" y1="1094.9" x2="247.5" y2="1094.9" stroke="#000" stroke-width="2.0"/>
<line x1="1757.5" y1="1094.9" x2="1750.0" y2="1094.9" stroke="#000" stroke-width="2.0"/>
<line x1="240.0" y1="1365.5" x2="258.0" y2="1365.5" stroke="#000" stroke-width="3.3"/>
<line x1="1757.5" y1="1365.5" x2="1739.5" y2="1365.5" stroke="#000" stroke-width="3.3"/>
<line x1="240.0" y1="1406.6" x2="247.5" y2="1406.6" stroke="#000" stroke-width="2.0"/>
<line x1="1757.5" y1="1406.6" x2="1750.0" y2="1406.6" stroke="#000" stroke-width="2.0"/>
<line x1="240.0" y1="1452.6" x2="247.5" y2="1452.6" stroke="#000" stroke-width="2.0"/>
<line x1="1757.5" y1="1452.6" x2="1750.0" y2="1452.6" stroke="#000" stroke-width="2.0"/>
<line x1="240.0" y1="1504.8" x2="247.5" y2="1504.8" stroke="#000" stroke-width="2.0"/>
<line x1="1757.5" y1="1504.8" x2="1750.0" y2="1504.8" stroke="#000" stroke-width="2.0"/>
<line x1="240.0" y1="1564.9" x2="247.5" y2="1564.9" stroke="#000" stroke-width="2.0"/>
<line x1="1757.5" y1="1564.9" x2="1750.0" y2="1564.9" stroke="#000" stroke-width="2.0"/>
<line x1="240.0" y1="1636.1" x2="247.5" y2="1636.1" stroke="#000" stroke-width="2.0"/>
<line x1="1757.5" y1="1636.1" x2="1750.0" y2="1636.1" stroke="#000" stroke-width="2.0"/>
<line x1="240.0" y1="1723.2" x2="247.5" y2="1723.2" stroke="#000" stroke-width="2.0"/>
<line x1="1757.5" y1="1723.2" x2="1750.0" y2="1723.2" stroke="#000" stroke-width="2.0"/>
<rect x="240.0" y="991.5" width="1517.5" height="844.2" fill="none" stroke="#000" stroke-width="3.0"/>
<text transform="translate(279.5,1113.2) rotate(-90)" font-size="24.4" text-anchor="middle">Ca-H 3935</text>
<text transform="translate(317.5,1113.2) rotate(-90)" font-size="24.4" text-anchor="middle">Ca-K 3970</text>
<text transform="translate(367.7,1113.2) rotate(-90)" font-size="24.4" text-anchor="middle">H<tspan font-family="Liberation Serif, serif" font-style="italic" font-size="27">δ</tspan> 4103</text>
<text transform="translate(449.4,1113.2) rotate(-90)" font-size="24.4" text-anchor="middle">G-band 4304</text>
<text transform="translate(489,1113.2) rotate(-90)" font-size="24.4" text-anchor="middle">H<tspan font-family="Liberation Serif, serif" font-style="italic" font-size="27">γ</tspan> 4340</text>
<text transform="translate(721.7,1113.2) rotate(-90)" font-size="24.4" text-anchor="middle">H<tspan font-family="Liberation Serif, serif" font-style="italic" font-size="27">β</tspan> 4861</text>
<text transform="translate(757.5,1113.2) rotate(-90)" font-size="24.4" text-anchor="middle">[OIII] 4960</text>
<text transform="translate(790.7,1113.2) rotate(-90)" font-size="24.4" text-anchor="middle">[OIII] 5008</text>
<text transform="translate(868.7,1113.2) rotate(-90)" font-size="24.4" text-anchor="middle">Mg 5177</text>
<text transform="translate(1203.9,1113.2) rotate(-90)" font-size="24.4" text-anchor="middle">Na 5896</text>
<text transform="translate(1477.9,1113.2) rotate(-90)" font-size="24.4" text-anchor="middle">[NII] 6549</text>
<text transform="translate(1516.2,1113.2) rotate(-90)" font-size="24.4" text-anchor="middle">H<tspan font-family="Liberation Serif, serif" font-style="italic" font-size="27">α</tspan> 6563</text>
<text transform="translate(1548.6,1113.2) rotate(-90)" font-size="24.4" text-anchor="middle">[NII] 6585</text>
<text transform="translate(1589.1,1113.2) rotate(-90)" font-size="24.4" text-anchor="middle">[SII] 6718</text>
<text transform="translate(1628.1,1113.2) rotate(-90)" font-size="24.4" text-anchor="middle">[SII] 6733</text>
<path d="M286.0,1183.5 L282.9,1296.5 M277.2,1284.3 L282.9,1296.5 L289.2,1284.7" fill="none" stroke="#000" stroke-width="1.8" stroke-linecap="round" stroke-linejoin="round"/>
<path d="M322.6,1182.6 L299.4,1296.5 M295.9,1283.5 L299.4,1296.5 L307.7,1285.9" fill="none" stroke="#000" stroke-width="1.8" stroke-linecap="round" stroke-linejoin="round"/>
<path d="M375.0,1169.0 L361.4,1296.5 M356.7,1283.9 L361.4,1296.5 L368.6,1285.2" fill="none" stroke="#000" stroke-width="1.8" stroke-linecap="round" stroke-linejoin="round"/>
<path d="M457.1,1196.2 L454.0,1296.5 M448.4,1284.3 L454.0,1296.5 L460.4,1284.7" fill="none" stroke="#000" stroke-width="1.8" stroke-linecap="round" stroke-linejoin="round"/>
<path d="M495.4,1169.8 L472.4,1296.5 M468.6,1283.6 L472.4,1296.5 L480.4,1285.8" fill="none" stroke="#000" stroke-width="1.8" stroke-linecap="round" stroke-linejoin="round"/>
<path d="M729.4,1170.7 L716.1,1296.5 M711.4,1283.9 L716.1,1296.5 L723.3,1285.2" fill="none" stroke="#000" stroke-width="1.8" stroke-linecap="round" stroke-linejoin="round"/>
<path d="M764.6,1180.9 L761.7,1296.5 M756.0,1284.4 L761.7,1296.5 L768.0,1284.7" fill="none" stroke="#000" stroke-width="1.8" stroke-linecap="round" stroke-linejoin="round"/>
<path d="M797.1,1180.9 L784.2,1296.5 M779.6,1283.9 L784.2,1296.5 L791.5,1285.2" fill="none" stroke="#000" stroke-width="1.8" stroke-linecap="round" stroke-linejoin="round"/>
<path d="M875.8,1171.2 L862.7,1296.5 M858.0,1283.9 L862.7,1296.5 L869.9,1285.2" fill="none" stroke="#000" stroke-width="1.8" stroke-linecap="round" stroke-linejoin="round"/>
<path d="M1211.2,1169.8 L1197.9,1296.5 M1193.2,1283.9 L1197.9,1296.5 L1205.1,1285.2" fill="none" stroke="#000" stroke-width="1.8" stroke-linecap="round" stroke-linejoin="round"/>
<path d="M1485.6,1176.6 L1501.7,1296.5 M1494.2,1285.4 L1501.7,1296.5 L1506.0,1283.8" fill="none" stroke="#000" stroke-width="1.8" stroke-linecap="round" stroke-linejoin="round"/>
<path d="M1523.0,1170.7 L1510.8,1296.5 M1506.0,1284.0 L1510.8,1296.5 L1517.9,1285.1" fill="none" stroke="#000" stroke-width="1.8" stroke-linecap="round" stroke-linejoin="round"/>
<path d="M1552.8,1176.6 L1521.3,1296.5 M1518.5,1283.4 L1521.3,1296.5 L1530.2,1286.4" fill="none" stroke="#000" stroke-width="1.8" stroke-linecap="round" stroke-linejoin="round"/>
<path d="M1594.5,1175.8 L1582.3,1296.5 M1577.5,1284.0 L1582.3,1296.5 L1589.5,1285.2" fill="none" stroke="#000" stroke-width="1.8" stroke-linecap="round" stroke-linejoin="round"/>
<path d="M1631.6,1175.8 L1590.8,1296.5 M1589.0,1283.2 L1590.8,1296.5 L1600.3,1287.1" fill="none" stroke="#000" stroke-width="1.8" stroke-linecap="round" stroke-linejoin="round"/>
<rect x="264" y="1006" width="55" height="59" fill="#fff" fill-opacity="0.5"/>
<text x="291.5" y="1042" font-size="35" text-anchor="middle">(b)</text>
<text x="285.4" y="1883" font-size="40.3" text-anchor="middle">4000</text>
<text x="515.4" y="1883" font-size="40.3" text-anchor="middle">4500</text>
<text x="745.4" y="1883" font-size="40.3" text-anchor="middle">5000</text>
<text x="975.4" y="1883" font-size="40.3" text-anchor="middle">5500</text>
<text x="1205.4" y="1883" font-size="40.3" text-anchor="middle">6000</text>
<text x="1435.4" y="1883" font-size="40.3" text-anchor="middle">6500</text>
<text x="1665.4" y="1883" font-size="40.3" text-anchor="middle">7000</text>
<text x="223" y="1109.6" font-size="41" text-anchor="end">2<tspan font-family="DejaVu Sans Light, DejaVu Sans, sans-serif" font-size="45" dx="5">×</tspan><tspan dx="5">10</tspan><tspan font-size="28.7" dy="-14.2"><tspan font-family="DejaVu Math TeX Gyre, DejaVu Sans, sans-serif">−</tspan>16</tspan></text>
<text x="223" y="1380.2" font-size="41" text-anchor="end">10<tspan font-size="28.7" dy="-14.2"><tspan font-family="DejaVu Math TeX Gyre, DejaVu Sans, sans-serif">−</tspan>16</tspan></text>
<text x="223" y="1579.6" font-size="41" text-anchor="end">6<tspan font-family="DejaVu Sans Light, DejaVu Sans, sans-serif" font-size="45" dx="5">×</tspan><tspan dx="5">10</tspan><tspan font-size="28.7" dy="-14.2"><tspan font-family="DejaVu Math TeX Gyre, DejaVu Sans, sans-serif">−</tspan>17</tspan></text>
<text x="223" y="1737.9" font-size="41" text-anchor="end">4<tspan font-family="DejaVu Sans Light, DejaVu Sans, sans-serif" font-size="45" dx="5">×</tspan><tspan dx="5">10</tspan><tspan font-size="28.7" dy="-14.2"><tspan font-family="DejaVu Math TeX Gyre, DejaVu Sans, sans-serif">−</tspan>17</tspan></text>
<text x="223" y="1850.3" font-size="41" text-anchor="end">3<tspan font-family="DejaVu Sans Light, DejaVu Sans, sans-serif" font-size="45" dx="5">×</tspan><tspan dx="5">10</tspan><tspan font-size="28.7" dy="-14.2"><tspan font-family="DejaVu Math TeX Gyre, DejaVu Sans, sans-serif">−</tspan>17</tspan></text>
<text x="997" y="1938" font-size="35" text-anchor="middle">Wavelength [<tspan font-style="italic">Å</tspan>]</text>
<text transform="translate(36,1408) rotate(-90)" font-size="35.1" text-anchor="middle">Flux Density [erg cm<tspan font-size="24.6" dy="-14.0"><tspan font-family="DejaVu Math TeX Gyre, DejaVu Sans, sans-serif">−</tspan>2</tspan><tspan dy="14.0"> s</tspan><tspan font-size="24.6" dy="-14.0"><tspan font-family="DejaVu Math TeX Gyre, DejaVu Sans, sans-serif">−</tspan>1</tspan><tspan dy="14.0"> </tspan><tspan font-style="italic">Å</tspan><tspan font-size="24.6" dy="-14.0"><tspan font-family="DejaVu Math TeX Gyre, DejaVu Sans, sans-serif">−</tspan>1</tspan><tspan dy="14.0">]</tspan></text>
</svg></body></html>
